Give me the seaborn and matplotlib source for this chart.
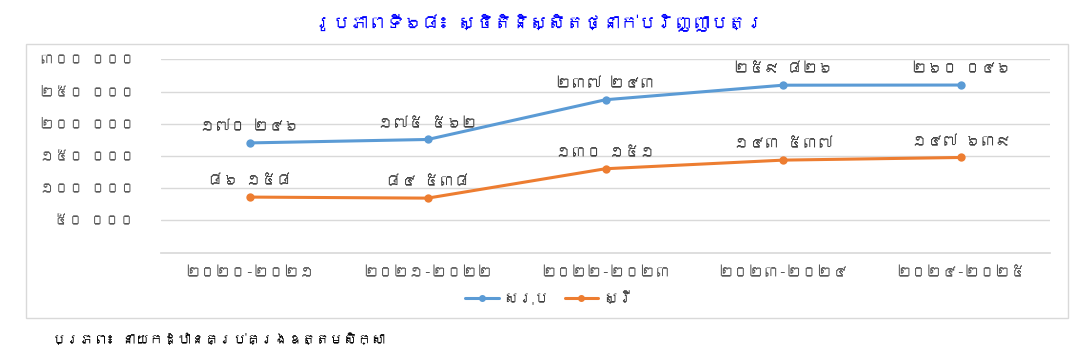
import matplotlib
matplotlib.use("Agg")
import matplotlib.pyplot as plt
import seaborn as sns
import pandas as pd
from matplotlib import font_manager
from matplotlib.patches import Rectangle
from matplotlib.lines import Line2D

# ---------------- data ----------------
years = ["២០២០-២០២១", "២០២១-២០២២", "២០២២-២០២៣", "២០២៣-២០២៤", "២០២៤-២០២៥"]
total = [170246, 175562, 237243, 259826, 260046]
female = [86158, 84538, 130151, 143537, 147639]
series_names = ["សរុប", "ស្រី"]
y_ticks = [50000, 100000, 150000, 200000, 250000, 300000]
y_tick_labels = ["៥០ ០០០", "១០០ ០០០", "១៥០ ០០០", "២០០ ០០០", "២៥០ ០០០", "៣០០ ០០០"]
title = "រូបភាពទី៦៨៖ ស្ថិតិនិស្សិតថ្នាក់បរិញ្ញាបត្រ"
source = "ប្រភព៖ នាយកដ្ឋានគ្រប់គ្រងឧត្តមសិក្សា"

# ---------------- font detection ----------------
khmer_font = None
try:
    from fontTools.ttLib import TTFont
    for f in font_manager.fontManager.ttflist:
        try:
            tt = TTFont(f.fname, fontNumber=0, lazy=True)
            cmap = tt.getBestCmap()
            if cmap and 0x1780 in cmap and 0x17E0 in cmap:
                khmer_font = f.name
                break
        except Exception:
            pass
except Exception:
    pass

sns.set_theme(style="white")
fams = ([khmer_font] if khmer_font else []) + ["DejaVu Sans"]
plt.rcParams["font.family"] = fams

KH_DIG = "០១២៣៤៥៦៧៨៩"
def kh(n):
    s = f"{n:,}".replace(",", " ")
    return "".join(KH_DIG[int(c)] if c.isdigit() else c for c in s)

df = pd.DataFrame({
    "year": years * 2,
    "value": total + female,
    "series": [series_names[0]] * len(years) + [series_names[1]] * len(years),
})

W, H = 1077, 362
fig = plt.figure(figsize=(W / 100, H / 100), dpi=100)
ax = fig.add_axes([161 / W, 1 - 252.6 / H, (1050 - 161) / W, (252.6 - 59.3) / H])

colors = {series_names[0]: "#5B9BD5", series_names[1]: "#ED7D31"}
sns.lineplot(data=df, x="year", y="value", hue="series", palette=colors,
             marker="o", markersize=6, markeredgewidth=0, linewidth=2.2,
             sort=False, ax=ax, legend=False)

ax.set_xlim(-0.5, len(years) - 0.5)
ax.set_ylim(0, 300000)
ax.set_yticks(y_ticks)
ax.set_yticklabels(y_tick_labels, color="#595959", fontsize=10.5)
ax.set_xticks(range(len(years)))
ax.set_xticklabels(years, color="#595959", fontsize=11)
ax.tick_params(axis="y", length=0, pad=19)
ax.tick_params(axis="x", length=0, pad=10)
ax.set_xlabel("")
ax.set_ylabel("")
ax.grid(axis="y", color="#d9d9d9", linewidth=1)
for s in ["top", "right", "left"]:
    ax.spines[s].set_visible(False)
ax.spines["bottom"].set_color("#d9d9d9")

for vals in (total, female):
    for i, v in enumerate(vals):
        ax.annotate(kh(v), (i, v), xytext=(0, 7), textcoords="offset points",
                    ha="center", va="bottom", fontsize=11, color="#404040")

handles = [Line2D([], [], color=colors[n], marker="o", markersize=4, linewidth=2.2) for n in series_names]
fig.legend(handles, series_names, loc="center", bbox_to_anchor=(0.51, 1 - 298 / H),
           ncol=2, frameon=False, fontsize=11, handlelength=2.2, columnspacing=1.0,
           handletextpad=0.3, labelcolor="#404040")

fig.text(0.5, 1 - 22 / H, title, ha="center", va="center", fontsize=13,
         color="#0000FF", fontweight="bold")
fig.text(52 / W, 1 - 340 / H, source, ha="left", va="center", fontsize=10,
         style="italic", color="#000000")

fig.patches.append(Rectangle((26 / W, 1 - 318 / H), (1068 - 26) / W, (318 - 44) / H,
                             transform=fig.transFigure, fill=False,
                             edgecolor="#d9d9d9", linewidth=1))

fig.savefig("out.png", dpi=100)
